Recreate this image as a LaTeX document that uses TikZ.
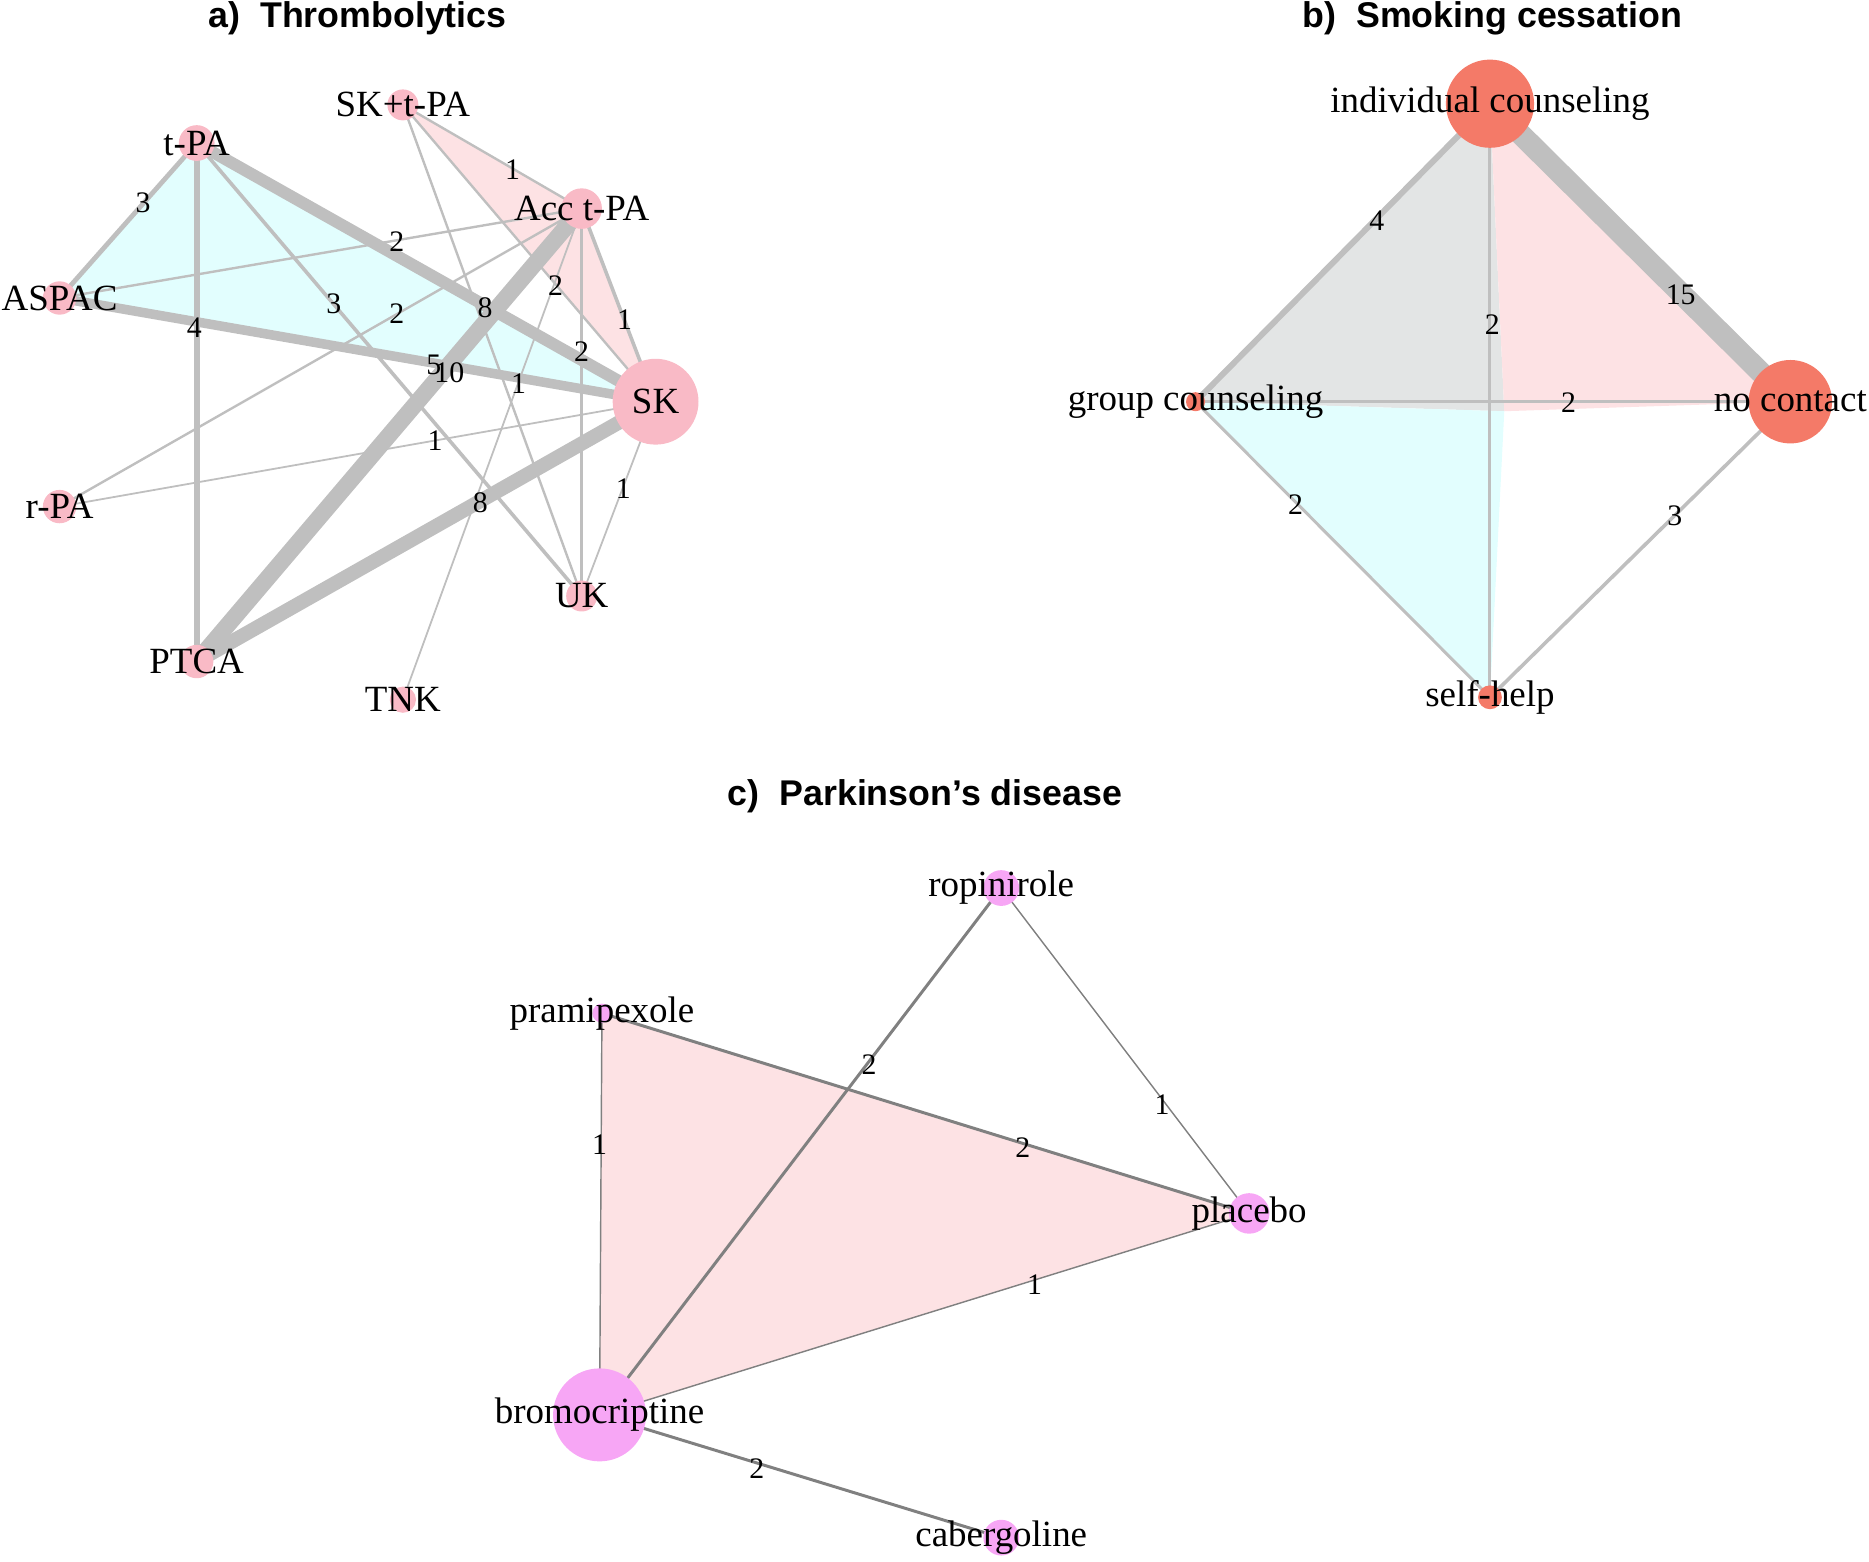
\documentclass[tikz,border=0pt]{standalone}
\usepackage{fontspec}
\setmainfont{Liberation Serif}
\setsansfont{Liberation Sans}
\begin{document}
\begin{tikzpicture}[x=1pt,y=-1pt,
  lab/.style={font=\fontsize{31}{33}\selectfont,inner sep=0pt},
  num/.style={font=\fontsize{25}{27}\selectfont,inner sep=0pt},
  ttl/.style={font=\sffamily\bfseries\fontsize{30}{32}\selectfont,inner sep=0pt},
  ed/.style={draw=black!25,line cap=butt},
  edc/.style={draw=black!50},
  pa/.style={circle,inner sep=0pt},
  pb/.style={circle,inner sep=0pt},
  pc/.style={circle,inner sep=0pt}]
\useasboundingbox (0,0) rectangle (1568,1310);
\definecolor{nA}{HTML}{F9BAC6}
\definecolor{nB}{HTML}{F47A68}
\definecolor{nC}{HTML}{F7A6F5}
\definecolor{fc}{HTML}{E2FEFE}
\definecolor{fp}{HTML}{FDE2E4}
\definecolor{fg}{HTML}{E3E5E5}
% titles
\node[ttl] (ta) at (300,15) {a)\ \ Thrombolytics};
\node[ttl] (tb) at (1252,15) {b)\ \ Smoking cessation};
\node[ttl] (tc) at (776,668) {c)\ \ Parkinson{\char"27}s disease};
% ---- panel a
\coordinate (tpa) at (165,120);
\coordinate (sktpa) at (338,88);
\coordinate (acc) at (488,175);
\coordinate (aspac) at (50,250);
\coordinate (sk) at (550,337);
\coordinate (rpa) at (50,425);
\coordinate (uk) at (488,500);
\coordinate (ptca) at (165,555);
\coordinate (tnk) at (338,587);
\fill[fc] (tpa) -- (aspac) -- (sk) -- cycle;
\fill[fp] (sktpa) -- (acc) -- (sk) -- cycle;
\draw[ed,line width=4] (tpa) -- (aspac);
\draw[ed,line width=10] (tpa) -- (sk);
\draw[ed,line width=3] (tpa) -- (uk);
\draw[ed,line width=5] (tpa) -- (ptca);
\draw[ed,line width=2] (aspac) -- (acc);
\draw[ed,line width=8] (aspac) -- (sk);
\draw[ed,line width=14] (acc) -- (ptca);
\draw[ed,line width=12] (sk) -- (ptca);
\draw[ed,line width=2] (sktpa) -- (acc);
\draw[ed,line width=2] (sktpa) -- (sk);
\draw[ed,line width=2] (sktpa) -- (uk);
\draw[ed,line width=3] (acc) -- (sk);
\draw[ed,line width=3] (acc) -- (uk);
\draw[ed,line width=2] (acc) -- (rpa);
\draw[ed,line width=1.5] (acc) -- (tnk);
\draw[ed,line width=1.5] (rpa) -- (sk);
\draw[ed,line width=1.5] (sk) -- (uk);
\node[pa,fill=nA,minimum size=30] (ntpa) at (tpa) {};
\node[pa,fill=nA,minimum size=26] (nsktpa) at (sktpa) {};
\node[pa,fill=nA,minimum size=34] (nacc) at (acc) {};
\node[pa,fill=nA,minimum size=28] (naspac) at (aspac) {};
\node[pa,fill=nA,minimum size=72] (nsk) at (sk) {};
\node[pa,fill=nA,minimum size=28] (nrpa) at (rpa) {};
\node[pa,fill=nA,minimum size=26] (nuk) at (uk) {};
\node[pa,fill=nA,minimum size=28] (nptca) at (ptca) {};
\node[pa,fill=nA,minimum size=22] (ntnk) at (tnk) {};
\node[lab] (l1) at (tpa) {t-PA};
\node[lab] (l2) at (sktpa) {SK+t-PA};
\node[lab] (l3) at (acc) {Acc t-PA};
\node[lab] (l4) at (aspac) {ASPAC};
\node[lab] (l5) at (sk) {SK};
\node[lab] (l6) at (rpa) {r-PA};
\node[lab] (l7) at (uk) {UK};
\node[lab] (l8) at (ptca) {PTCA};
\node[lab] (l9) at (tnk) {TNK};
\node[num] at (120,170) {3};
\node[num] at (407,258) {8};
\node[num] at (280,255) {3};
\node[num] at (163,275) {4};
\node[num] at (333,203) {2};
\node[num] at (364,306) {5};
\node[num] at (377,313) {10};
\node[num] at (403,422) {8};
\node[num] at (430,142) {1};
\node[num] at (466,240) {2};
\node[num] at (524,268) {1};
\node[num] at (488,295) {2};
\node[num] at (333,263) {2};
\node[num] at (435,322) {1};
\node[num] at (365,370) {1};
\node[num] at (523,410) {1};
% ---- panel b
\coordinate (ind) at (1250,87);
\coordinate (grp) at (1003,337);
\coordinate (noc) at (1502,337);
\coordinate (slf) at (1250,585);
\coordinate (ctr) at (1262,345);
\fill[fg] (ind) -- (grp) -- (ctr) -- cycle;
\fill[fp] (ind) -- (noc) -- (ctr) -- cycle;
\fill[fc] (grp) -- (slf) -- (ctr) -- cycle;
\draw[ed,line width=5] (ind) -- (grp);
\draw[ed,line width=18] (ind) -- (noc);
\draw[ed,line width=2.5] (ind) -- (slf);
\draw[ed,line width=3] (grp) -- (noc);
\draw[ed,line width=2.5] (grp) -- (slf);
\draw[ed,line width=3] (noc) -- (slf);
\node[pb,fill=nB,minimum size=74] (nind) at (ind) {};
\node[pb,fill=nB,minimum size=16] (ngrp) at (grp) {};
\node[pb,fill=nB,minimum size=70] (nnoc) at (noc) {};
\node[pb,fill=nB,minimum size=20] (nslf) at (slf) {};
\node[lab] at (ind) {individual counseling};
\node[lab] at (grp) {group counseling};
\node[lab] at (noc) {no contact};
\node[lab] at (slf) {self-help};
\node[num] at (1155,185) {4};
\node[num] at (1410,247) {15};
\node[num] at (1252,272) {2};
\node[num] at (1316,338) {2};
\node[num] at (1087,423) {2};
\node[num] at (1405,433) {3};
% ---- panel c
\coordinate (rop) at (840,745);
\coordinate (pra) at (505,850);
\coordinate (pla) at (1048,1018);
\coordinate (bro) at (503,1187);
\coordinate (cab) at (840,1290);
\fill[fp] (pra) -- (pla) -- (bro) -- cycle;
\draw[edc,line width=2.5] (rop) -- (bro);
\draw[edc,line width=1.2] (rop) -- (pla);
\draw[edc,line width=2.5] (pra) -- (pla);
\draw[edc,line width=1.2] (pra) -- (bro);
\draw[edc,line width=1.2] (pla) -- (bro);
\draw[edc,line width=2.5] (bro) -- (cab);
\node[pc,fill=nC,minimum size=30] (nrop) at (rop) {};
\node[pc,fill=nC,minimum size=16] (npra) at (pra) {};
\node[pc,fill=nC,minimum size=34] (npla) at (pla) {};
\node[pc,fill=nC,minimum size=78] (nbro) at (bro) {};
\node[pc,fill=nC,minimum size=30] (ncab) at (cab) {};
\node[lab] at (rop) {ropinirole};
\node[lab] at (pra) {pramipexole};
\node[lab] at (pla) {placebo};
\node[lab] at (bro) {bromocriptine};
\node[lab] at (cab) {cabergoline};
\node[num] at (729,893) {2};
\node[num] at (975,927) {1};
\node[num] at (858,963) {2};
\node[num] at (503,960) {1};
\node[num] at (868,1078) {1};
\node[num] at (635,1232) {2};
\end{tikzpicture}
\end{document}
